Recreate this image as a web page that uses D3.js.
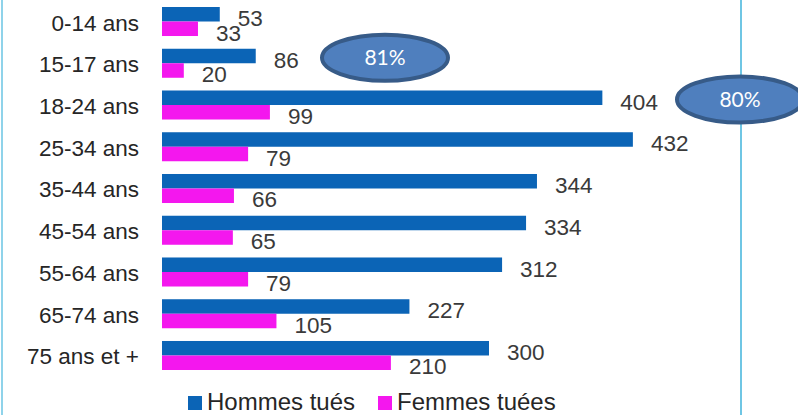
<!DOCTYPE html>
<html>
<head>
<meta charset="utf-8">
<script src="https://cdn.jsdelivr.net/npm/d3@7"></script>
<style>
  html, body { margin: 0; padding: 0; background: #fff; }
  svg { display: block; }
</style>
</head>
<body>
<svg id="chart"></svg>
<script>
const categories = ['0-14 ans', '15-17 ans', '18-24 ans', '25-34 ans', '35-44 ans', '45-54 ans', '55-64 ans', '65-74 ans', '75 ans et +'];
const hommes = [53, 86, 404, 432, 344, 334, 312, 227, 300];
const femmes = [33, 20, 99, 79, 66, 65, 79, 105, 210];
const seriesNames = ['Hommes tués', 'Femmes tuées'];
const bubbleLabels = ['81%', '80%'];
const bubbleRows = ['15-17 ans', '18-24 ans'];

const W = 798, H = 415;
const BLUE = '#0b64b6', PINK = '#f417ee';
const FONT = '"Liberation Sans", Arial, sans-serif';

const svg = d3.select('#chart').attr('width', W).attr('height', H);

// frame lines (left / right)
svg.append('line').attr('x1', 2).attr('x2', 2).attr('y1', 0).attr('y2', H)
    .style('stroke', '#8fd3ea').style('stroke-width', 2);
svg.append('line').attr('x1', 741).attr('x2', 741).attr('y1', 0).attr('y2', H)
    .style('stroke', '#6fc6e4').style('stroke-width', 2);

const x = d3.scaleLinear().domain([0, 500]).range([162, 707]);
const y = d3.scaleBand().domain(categories).range([7, 370]).paddingInner(0.305).paddingOuter(0);
const ySub = d3.scaleBand().domain(seriesNames).range([0, y.bandwidth()]);
const colors = d3.scaleOrdinal().domain(seriesNames).range([BLUE, PINK]);

const rows = categories.map((c, i) => ({ cat: c, vals: [hommes[i], femmes[i]] }));

const g = svg.selectAll('g.row')
    .data(rows)
    .enter()
    .append('g')
    .attr('class', 'row')
    .attr('transform', d => `translate(0, ${y(d.cat)})`);

// category labels
g.append('text')
    .attr('x', 139)
    .attr('y', y.bandwidth() / 2 + 9)
    .attr('text-anchor', 'end')
    .style('font-family', FONT)
    .style('font-size', '22.5px')
    .style('fill', '#262626')
    .text(d => d.cat);

/** bars */
g.selectAll('rect')
    .data(d => d.vals.map((v, j) => ({ v, s: seriesNames[j] })))
    .enter()
    .append('rect')
    .attr('x', x(0))
    .attr('y', d => ySub(d.s))
    .attr('width', d => x(d.v) - x(0))
    .attr('height', ySub.bandwidth())
    .style('fill', d => colors(d.s));

/** value labels */
g.selectAll('text.val')
    .data(d => d.vals.map((v, j) => ({ v, s: seriesNames[j] })))
    .enter()
    .append('text')
    .attr('class', 'val')
    .attr('x', d => x(d.v) + 18)
    .attr('y', d => ySub(d.s) + ySub.bandwidth() + 4.5)
    .style('font-family', FONT)
    .style('font-size', '22.5px')
    .style('fill', '#3a3a3a')
    .text(d => d.v);

// legend
const legend = svg.append('g').attr('transform', 'translate(0, 410)');
const legX = [188, 378];
seriesNames.forEach((s, i) => {
    legend.append('rect')
        .attr('x', legX[i]).attr('y', -14)
        .attr('width', 14).attr('height', 14)
        .style('fill', colors(s));
    legend.append('text')
        .attr('x', legX[i] + 19).attr('y', 0)
        .style('font-family', FONT)
        .style('font-size', '24px')
        .style('fill', '#262626')
        .text(s);
});

// percentage bubbles
const bubbleCx = [385, 740];
bubbleLabels.forEach((lab, i) => {
    const cy = y(bubbleRows[i]) + 9;
    svg.append('ellipse')
        .attr('cx', bubbleCx[i]).attr('cy', cy)
        .attr('rx', 63).attr('ry', 23)
        .style('fill', '#4f7fbe')
        .style('stroke', '#375b88')
        .style('stroke-width', 4);
    svg.append('text')
        .attr('x', bubbleCx[i]).attr('y', cy + 7.5)
        .attr('text-anchor', 'middle')
        .style('font-family', 'Lato, "Open Sans", sans-serif')
        .style('font-size', '21px')
        .style('fill', '#fff')
        .text(lab);
});
</script>
</body>
</html>
